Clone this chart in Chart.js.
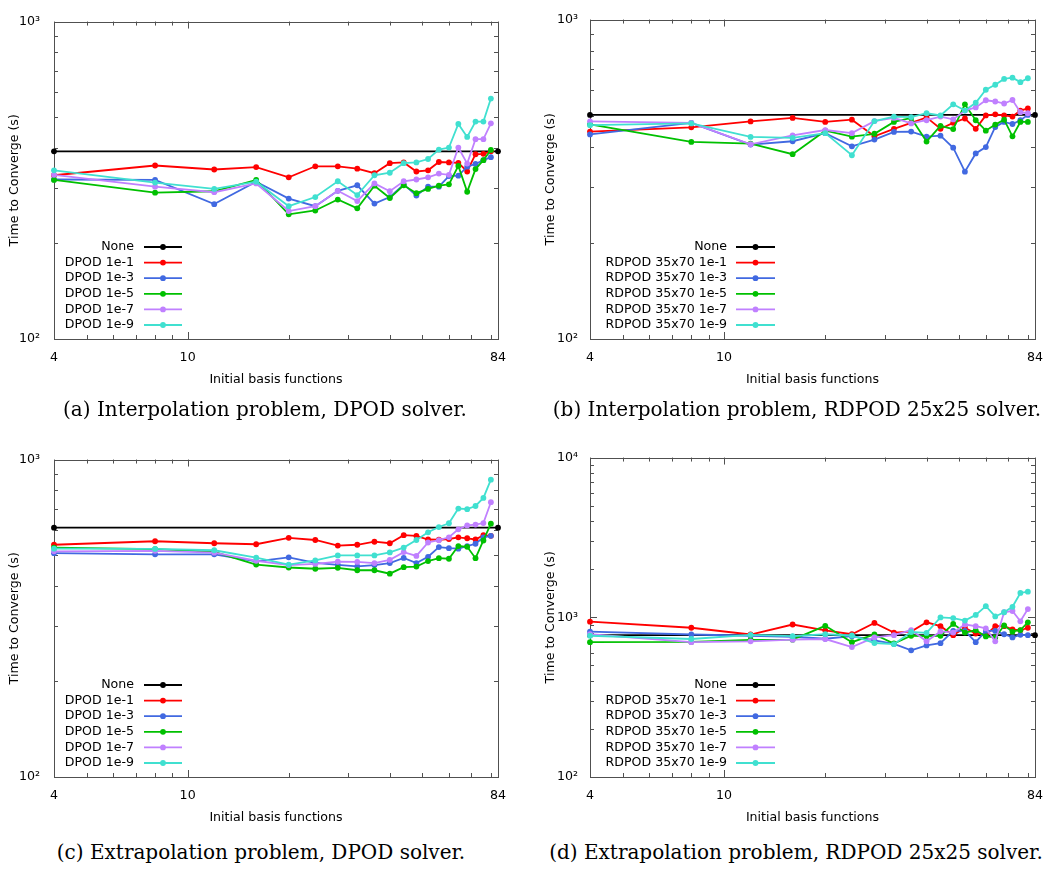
<!DOCTYPE html>
<html>
<head>
<meta charset="utf-8">
<title>Time to converge vs. initial basis functions</title>
<script src="https://cdn.jsdelivr.net/npm/chart.js@4.4.1/dist/chart.umd.min.js"></script>
<style>
  html, body { margin: 0; padding: 0; background: #fff; }
  #fig { position: relative; width: 1059px; height: 869px; overflow: hidden; }
  .panel { position: absolute; }
  .panel canvas { display: block; }
  .caption {
    position: absolute;
    font-family: "DejaVu Serif", serif;
    font-size: 20px;
    line-height: 1;
    color: #000;
    white-space: nowrap;
    transform: translateX(-50%);
  }
</style>
</head>
<body>
<div id="fig">
  <div class="panel" style="left:0px;top:0px;"><canvas id="chartA" width="530" height="400"></canvas></div>
  <div class="panel" style="left:530px;top:0px;"><canvas id="chartB" width="529" height="400"></canvas></div>
  <div class="panel" style="left:0px;top:438px;"><canvas id="chartC" width="530" height="400"></canvas></div>
  <div class="panel" style="left:530px;top:438px;"><canvas id="chartD" width="529" height="400"></canvas></div>

  <div class="caption" style="left:265px;top:399px;">(a) Interpolation problem, DPOD solver.</div>
  <div class="caption" style="left:797px;top:399px;">(b) Interpolation problem, RDPOD 25x25 solver.</div>
  <div class="caption" style="left:261px;top:842px;">(c) Extrapolation problem, DPOD solver.</div>
  <div class="caption" style="left:796px;top:842px;">(d) Extrapolation problem, RDPOD 25x25 solver.</div>
</div>

<script>
// ---- data -------------------------------------------------------------
const basisCounts = [4, 8, 12, 16, 20, 24, 28, 32, 36, 40, 44, 48, 52, 56, 60, 64, 68, 72, 76, 80];
const noneCounts = [4, 84];

const dpodLabels  = ['None', 'DPOD 1e-1', 'DPOD 1e-3', 'DPOD 1e-5', 'DPOD 1e-7', 'DPOD 1e-9'];
const rdpodLabels = ['None', 'RDPOD 35x70 1e-1', 'RDPOD 35x70 1e-3', 'RDPOD 35x70 1e-5', 'RDPOD 35x70 1e-7', 'RDPOD 35x70 1e-9'];

// (a) interpolation problem, DPOD solver
const interpDpodNone = 390;
const interpDpod1e1 = [328, 352, 342, 348, 323, 350, 350, 344, 333, 358, 360, 337, 340, 361, 360, 359, 337, 382, 383, 390];
const interpDpod1e3 = [318, 317, 266, 313, 277, 262, 293, 305, 267, 280, 307, 283, 302, 302, 326, 327, 349, 356, 366, 374];
const interpDpod1e5 = [317, 289, 292, 317, 247, 254, 275, 258, 304, 278, 305, 288, 297, 304, 307, 351, 291, 343, 366, 394];
const interpDpod1e7 = [329, 302, 290, 309, 253, 262, 293, 272, 309, 292, 314, 318, 323, 332, 329, 401, 357, 426, 426, 478];
const interpDpod1e9 = [340, 311, 297, 313, 262, 280, 314, 284, 328, 334, 358, 360, 369, 395, 401, 476, 433, 484, 484, 572];

// (b) interpolation problem, RDPOD solver
const interpRdpodNone = 503;
const interpRdpod1e1 = [446, 460, 480, 492, 478, 486, 431, 455, 475, 494, 455, 475, 490, 455, 501, 505, 501, 497, 519, 527];
const interpRdpod1e3 = [437, 475, 406, 416, 441, 401, 421, 445, 446, 430, 433, 397, 334, 381, 399, 461, 478, 471, 484, 503];
const interpRdpod1e5 = [470, 414, 409, 379, 449, 430, 439, 478, 492, 415, 465, 454, 543, 484, 449, 469, 486, 431, 478, 478];
const interpRdpod1e7 = [480, 475, 407, 434, 451, 441, 481, 492, 473, 484, 497, 487, 519, 531, 559, 554, 546, 560, 513, 509];
const interpRdpod1e9 = [467, 473, 429, 426, 441, 376, 481, 497, 495, 509, 501, 543, 519, 549, 603, 625, 652, 658, 637, 655];

// (c) extrapolation problem, DPOD solver
const extrapDpodNone = 610;
const extrapDpod1e1 = [539, 553, 545, 541, 567, 558, 536, 539, 551, 545, 578, 575, 560, 559, 562, 569, 565, 560, 578, 575];
const extrapDpod1e3 = [507, 503, 503, 478, 492, 473, 466, 461, 465, 472, 490, 472, 494, 530, 526, 524, 534, 543, 569, 575];
const extrapDpod1e5 = [528, 522, 512, 467, 457, 453, 456, 448, 448, 437, 458, 460, 479, 489, 487, 534, 531, 489, 556, 628];
const extrapDpod1e7 = [514, 516, 509, 480, 465, 469, 477, 476, 472, 483, 511, 497, 548, 557, 569, 603, 620, 624, 631, 734];
const extrapDpod1e9 = [524, 523, 518, 491, 467, 481, 499, 499, 499, 510, 528, 558, 590, 613, 630, 701, 698, 714, 757, 864];

// (d) extrapolation problem, RDPOD solver
const extrapRdpodNone = 773;
const extrapRdpod1e1 = [939, 860, 780, 901, 829, 783, 922, 802, 813, 930, 880, 773, 860, 791, 773, 880, 880, 840, 829, 860];
const extrapRdpod1e3 = [813, 780, 766, 755, 734, 762, 716, 682, 621, 666, 688, 821, 821, 698, 821, 821, 783, 748, 776, 773];
const extrapRdpod1e5 = [698, 701, 721, 724, 884, 698, 780, 685, 766, 762, 766, 909, 802, 829, 759, 748, 888, 813, 832, 930];
const extrapRdpod1e7 = [783, 698, 707, 724, 731, 651, 748, 773, 832, 707, 815, 802, 901, 880, 852, 707, 1075, 1095, 944, 1126];
const extrapRdpod1e9 = [766, 731, 776, 762, 783, 769, 690, 679, 809, 798, 998, 989, 953, 1035, 1174, 1012, 1075, 1163, 1420, 1447];

// ---- axis ticks ----------------------------------------------------------
const xTickValues = [4, 5, 6, 7, 8, 9, 10, 20, 30, 40, 50, 60, 70, 80, 84];
const xLabelledTicks = [4, 10, 84];
const xMajorTicks = [10];
const yTicksOneDecade = [100, 200, 300, 400, 500, 600, 700, 800, 900, 1000];
const yTicksTwoDecades = [100, 200, 300, 400, 500, 600, 700, 800, 900, 1000,
                          2000, 3000, 4000, 5000, 6000, 7000, 8000, 9000, 10000];
const yDecadeValues = [100, 1000, 10000];
const yDecadeLabels = ['10\u00B2', '10\u00B3', '10\u2074'];

// ---- styles ---------------------------------------------------------------
const lineColors = ['#000000', '#ff0000', '#4169e1', '#00c000', '#c080ff', '#40e0d0'];
const FONT_FAMILY = '"DejaVu Sans", sans-serif';
const FONT_SIZE = 12.6;

Chart.defaults.font.family = FONT_FAMILY;
Chart.defaults.font.size = FONT_SIZE;
Chart.defaults.color = '#000';

// Box frame plus gnuplot-style inward tick marks on all four sides.
const frameTicks = {
  id: 'frameTicks',
  beforeDatasetsDraw(chart) {
    const { ctx, chartArea: a, scales: { x, y } } = chart;
    const yVals = y.ticks.map(t => t.value);
    ctx.save();
    ctx.strokeStyle = '#505050';
    ctx.lineWidth = 1;
    ctx.beginPath();
    for (const v of xTickValues) {
      const px = Math.round(x.getPixelForValue(v)) + 0.5;
      const len = xMajorTicks.includes(v) ? 7 : 4;
      ctx.moveTo(px, a.bottom); ctx.lineTo(px, a.bottom - len);
      ctx.moveTo(px, a.top); ctx.lineTo(px, a.top + len);
    }
    for (const v of yVals) {
      const py = Math.round(y.getPixelForValue(v)) + 0.5;
      const len = yDecadeValues.includes(v) ? 7 : 4;
      ctx.moveTo(a.left, py); ctx.lineTo(a.left + len, py);
      ctx.moveTo(a.right, py); ctx.lineTo(a.right - len, py);
    }
    ctx.stroke();
    ctx.strokeRect(Math.round(a.left) + 0.5, Math.round(a.top) + 0.5,
                   Math.round(a.right - a.left), Math.round(a.bottom - a.top));
    ctx.restore();
  }
};

// Key drawn inside the plot, bottom-left, text right-aligned before each sample.
const insideLegend = {
  id: 'insideLegend',
  afterDatasetsDraw(chart, args, opts) {
    const { ctx, chartArea: a } = chart;
    ctx.save();
    ctx.font = FONT_SIZE + 'px ' + FONT_FAMILY;
    ctx.textAlign = 'right';
    ctx.textBaseline = 'middle';
    chart.data.datasets.forEach((ds, i) => {
      const yy = a.bottom - opts.firstRow + i * opts.rowGap;
      ctx.fillStyle = '#000';
      ctx.fillText(ds.label, a.left + opts.textRight, yy);
      ctx.strokeStyle = ds.borderColor;
      ctx.lineWidth = ds.borderWidth;
      ctx.beginPath();
      ctx.moveTo(a.left + opts.lineStart, yy);
      ctx.lineTo(a.left + opts.lineEnd, yy);
      ctx.stroke();
      ctx.fillStyle = ds.borderColor;
      ctx.beginPath();
      ctx.arc(a.left + (opts.lineStart + opts.lineEnd) / 2, yy, ds.pointRadius, 0, Math.PI * 2);
      ctx.fill();
    });
    ctx.restore();
  }
};

function toPoints(xs, ys) {
  return xs.map((x, i) => ({ x: x, y: ys[i] }));
}

function buildChart(id, labels, noneValue, series, yMax, yTicks, layoutOpts) {
  const datasets = [];
  datasets.push({ label: labels[0], data: toPoints(noneCounts, [noneValue, noneValue]) });
  series.forEach((vals, i) => {
    datasets.push({ label: labels[i + 1], data: toPoints(basisCounts, vals) });
  });
  datasets.forEach((ds, i) => {
    Object.assign(ds, {
      borderColor: lineColors[i],
      backgroundColor: lineColors[i],
      pointBackgroundColor: lineColors[i],
      borderWidth: 1.8,
      pointRadius: 2.9,
      pointBorderWidth: 0,
      pointHoverRadius: 2.9,
      tension: 0,
      fill: false,
      clip: false,
      order: datasets.length - i
    });
  });

  return new Chart(document.getElementById(id), {
    type: 'line',
    data: { datasets: datasets },
    plugins: [frameTicks, insideLegend],
    options: {
      responsive: false,
      animation: false,
      events: [],
      layout: { padding: { top: 9, right: layoutOpts.rightPad, bottom: 0, left: 0 } },
      plugins: {
        legend: { display: false },
        tooltip: { enabled: false },
        insideLegend: layoutOpts.legend
      },
      scales: {
        x: {
          type: 'logarithmic',
          min: 4,
          max: 84,
          afterBuildTicks: s => { s.ticks = xTickValues.map(v => ({ value: v })); },
          afterFit: s => { s.height = 61; },
          grid: { display: false, drawTicks: false },
          border: { display: false },
          ticks: {
            autoSkip: false,
            maxRotation: 0,
            padding: 11,
            callback: v => (xLabelledTicks.includes(v) ? String(v) : '')
          },
          title: {
            display: true,
            text: 'Initial basis functions',
            padding: { top: 0, bottom: 13 }
          }
        },
        y: {
          type: 'logarithmic',
          min: 100,
          max: yMax,
          afterBuildTicks: s => { s.ticks = yTicks.map(v => ({ value: v })); },
          afterFit: s => { s.width = layoutOpts.axisWidth; },
          grid: { display: false, drawTicks: false },
          border: { display: false },
          ticks: {
            autoSkip: false,
            padding: layoutOpts.yLabelPad,
            callback: v => {
              const k = yDecadeValues.indexOf(v);
              return k >= 0 ? yDecadeLabels[k] : '';
            }
          },
          title: {
            display: true,
            text: 'Time to Converge (s)',
            padding: { top: layoutOpts.yTitlePad, bottom: 0 }
          }
        }
      }
    }
  });
}

const leftLayout = {
  rightPad: 32, axisWidth: 54, yLabelPad: 14, yTitlePad: 7.5,
  legend: { textRight: 80, lineStart: 90, lineEnd: 128, firstRow: 92, rowGap: 15.6 }
};
const rightLayout = {
  rightPad: 24, axisWidth: 60, yLabelPad: 12, yTitlePad: 13.5,
  legend: { textRight: 137, lineStart: 146, lineEnd: 185, firstRow: 92, rowGap: 15.6 }
};

buildChart('chartA', dpodLabels, interpDpodNone,
  [interpDpod1e1, interpDpod1e3, interpDpod1e5, interpDpod1e7, interpDpod1e9],
  1000, yTicksOneDecade, leftLayout);

buildChart('chartB', rdpodLabels, interpRdpodNone,
  [interpRdpod1e1, interpRdpod1e3, interpRdpod1e5, interpRdpod1e7, interpRdpod1e9],
  1000, yTicksOneDecade, rightLayout);

buildChart('chartC', dpodLabels, extrapDpodNone,
  [extrapDpod1e1, extrapDpod1e3, extrapDpod1e5, extrapDpod1e7, extrapDpod1e9],
  1000, yTicksOneDecade, leftLayout);

buildChart('chartD', rdpodLabels, extrapRdpodNone,
  [extrapRdpod1e1, extrapRdpod1e3, extrapRdpod1e5, extrapRdpod1e7, extrapRdpod1e9],
  10000, yTicksTwoDecades, rightLayout);
</script>
</body>
</html>
